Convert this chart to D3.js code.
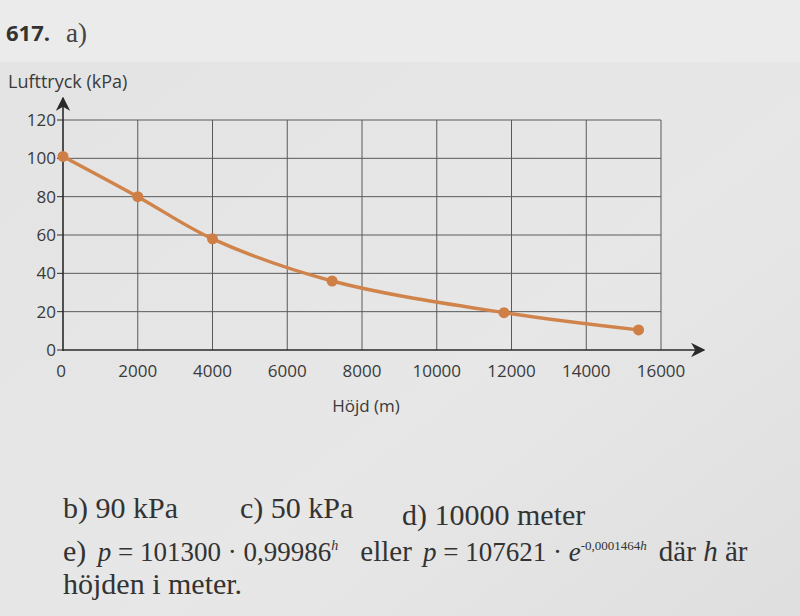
<!DOCTYPE html>
<html>
<head>
<meta charset="utf-8">
<script src="https://cdn.jsdelivr.net/npm/d3@7"></script>
<style>
  body { margin: 0; background: #e4e5e4; }
  svg { display: block; }
  .tick-label { font-family: "Open Sans", sans-serif; font-size: 17px; fill: #3a3a3a; }
  .answer { font-family: "Liberation Serif", serif; font-size: 30px; fill: #333; }
</style>
</head>
<body>
<svg class="page"></svg>
<script>
// (height in metres, pressure in kPa)
var heights = [0, 2000, 4000, 7200, 11800, 15400];
var pressures = [101, 80, 58, 36, 19.5, 10.5];
var xTicks = [0, 2000, 4000, 6000, 8000, 10000, 12000, 14000, 16000];
var yTicks = [0, 20, 40, 60, 80, 100, 120];

var width = 800,
    height = 616;

var svg = d3.select(".page")
    .attr("width", width)
    .attr("height", height);

// paper
var grad = svg.append("defs").append("linearGradient")
    .attr("id", "paper").attr("x1", 0).attr("y1", 0).attr("x2", 1).attr("y2", 1);
grad.append("stop").attr("offset", "0%").attr("stop-color", "#e2e3e2");
grad.append("stop").attr("offset", "60%").attr("stop-color", "#e6e7e6");
grad.append("stop").attr("offset", "100%").attr("stop-color", "#dedfde");
svg.append("rect").attr("width", width).attr("height", height).attr("fill", "url(#paper)");
svg.append("rect").attr("width", width).attr("height", 62).attr("fill", "#eaebea");

var x = d3.scaleLinear().domain([0, 16000]).range([63, 661]);
var y = d3.scaleLinear().domain([0, 120]).range([350, 120]);

// heading
svg.append("text").attr("x", 6).attr("y", 41)
    .style("font-family", "'Open Sans', sans-serif").style("font-weight", "bold")
    .style("font-size", "22px").attr("fill", "#333").text("617.");
svg.append("text").attr("x", 66).attr("y", 42)
    .style("font-family", "'Liberation Serif', serif").style("font-size", "27px")
    .attr("fill", "#444").text("a)");

var g = svg.append("g");

// grid
g.selectAll(".hgrid")
  .data(yTicks.slice(1))
  .enter().append("line")
    .attr("x1", x(0)).attr("x2", x(16000))
    .attr("y1", d => y(d)).attr("y2", d => y(d))
    .attr("stroke", "#5a5a5a").attr("stroke-width", 1);

g.selectAll(".vgrid")
  .data(xTicks.slice(1))
  .enter().append("line")
    .attr("x1", d => x(d)).attr("x2", d => x(d))
    .attr("y1", y(120)).attr("y2", y(0))
    .attr("stroke", "#5a5a5a").attr("stroke-width", 1);

// axes with arrows
var defs = svg.select("defs");
defs.append("marker")
    .attr("id", "arrow").attr("viewBox", "0 0 10 10")
    .attr("refX", 9).attr("refY", 5)
    .attr("markerWidth", 9).attr("markerHeight", 9)
    .attr("orient", "auto")
  .append("path").attr("d", "M0,0L10,5L0,10L3,5Z").attr("fill", "#2a2a2a");

g.append("line")
    .attr("x1", x(0)).attr("x2", 704)
    .attr("y1", y(0)).attr("y2", y(0))
    .attr("stroke", "#2a2a2a").attr("stroke-width", 1.6)
    .attr("marker-end", "url(#arrow)");
g.append("line")
    .attr("x1", x(0)).attr("x2", x(0))
    .attr("y1", y(0) + 1).attr("y2", 98)
    .attr("stroke", "#2a2a2a").attr("stroke-width", 1.6)
    .attr("marker-end", "url(#arrow)");

// y ticks
g.selectAll(".ytick")
  .data(yTicks)
  .enter().append("line")
    .attr("x1", x(0) - 6).attr("x2", x(0))
    .attr("y1", d => y(d)).attr("y2", d => y(d))
    .attr("stroke", "#2a2a2a");
g.selectAll(".ylab")
  .data(yTicks)
  .enter().append("text")
    .attr("class", "tick-label")
    .attr("x", x(0) - 7).attr("y", d => y(d) + 6)
    .attr("text-anchor", "end")
    .text(d => d);

// x tick labels
g.selectAll(".xlab")
  .data(xTicks)
  .enter().append("text")
    .attr("class", "tick-label")
    .attr("x", d => x(d) + (d === 0 ? -2 : 0)).attr("y", y(0) + 27)
    .attr("text-anchor", "middle")
    .text(d => d);

// axis titles
svg.append("text").attr("class", "tick-label")
    .style("font-size", "18px")
    .attr("x", 8).attr("y", 88).text("Lufttryck (kPa)");
svg.append("text").attr("class", "tick-label")
    .attr("x", 366).attr("y", 412).attr("text-anchor", "middle").text("Höjd (m)");

// curve
var points = heights.map((h, i) => [h, pressures[i]]);
var line = d3.line()
    .x(d => x(d[0]))
    .y(d => y(d[1]))
    .curve(d3.curveCatmullRom.alpha(0.5));

g.append("path")
    .datum(points)
    .attr("d", line)
    .attr("fill", "none")
    .attr("stroke", "#d0834a")
    .attr("stroke-width", 3.4)
    .attr("stroke-linecap", "round");

g.selectAll(".pt")
  .data(points)
  .enter().append("circle")
    .attr("cx", d => x(d[0]))
    .attr("cy", d => y(d[1]))
    .attr("r", 5.5)
    .attr("fill", "#cf7f45");

// answers
var ans = svg.append("g").attr("class", "answer");
ans.append("text").attr("x", 63).attr("y", 518).text("b) 90 kPa");
ans.append("text").attr("x", 240).attr("y", 518).text("c) 50 kPa");
ans.append("text").attr("x", 402).attr("y", 525).text("d) 10000 meter");

var e = ans.append("text").attr("x", 63).attr("y", 561).style("font-size", "27px");
e.append("tspan").style("font-size", "30px").text("e) ");
e.append("tspan").attr("dx", 4).style("font-style", "italic").text("p");
e.append("tspan").text(" = 101300 · 0,99986");
e.append("tspan").attr("dy", -11).style("font-size", "14px").style("font-style", "italic").text("h");
e.append("tspan").attr("dy", 11).attr("dx", 22).style("font-size", "29px").text("eller ");
e.append("tspan").attr("dx", 4).style("font-style", "italic").text("p");
e.append("tspan").text(" = 107621 · ");
e.append("tspan").style("font-style", "italic").text("e");
e.append("tspan").attr("dy", -11).style("font-size", "13px").text("-0,0001464");
e.append("tspan").style("font-size", "13px").style("font-style", "italic").text("h");
e.append("tspan").attr("dy", 11).attr("dx", 12).style("font-size", "29px").text("där ");
e.append("tspan").style("font-size", "29px").style("font-style", "italic").text("h");
e.append("tspan").style("font-size", "29px").text(" är");

ans.append("text").attr("x", 63).attr("y", 594).text("höjden i meter.");
</script>
</body>
</html>
